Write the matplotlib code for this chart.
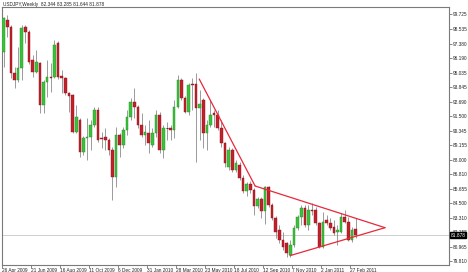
import matplotlib
matplotlib.use("Agg")
import matplotlib.pyplot as plt
from matplotlib.patches import Rectangle

# ---- data (weekly USDJPY candles, index 0 = week of 26 Apr 2009) ----
opens = [96.69, 99.28, 98.71, 95.00, 94.43, 95.40, 98.71, 98.31, 96.05, 95.08,
         95.80, 92.41, 94.27, 94.67, 94.67, 97.42, 94.75, 94.59, 93.38, 93.22,
         90.23, 91.20, 88.61, 89.74, 89.82, 90.79, 92.00, 89.74, 89.82, 89.58,
         88.77, 86.59, 89.98, 89.18, 90.39, 91.44, 92.65, 92.25, 90.79, 89.98,
         90.15, 89.18, 90.15, 91.60, 88.77, 90.55, 90.55, 90.39, 92.25, 94.43,
         92.98, 91.84, 94.11, 94.11, 92.17, 92.81, 90.15, 90.79, 91.76, 91.60,
         90.55, 89.34, 87.40, 88.77, 87.15, 87.56, 86.51, 85.46, 86.02, 85.54,
         84.24, 84.81, 83.84, 85.78, 84.33, 83.27, 82.30, 81.50, 81.25, 80.28,
         81.09, 82.47, 83.36, 84.08, 82.71, 83.92, 83.92, 82.87, 80.93, 83.11,
         82.87, 82.55, 82.14, 82.14, 83.36, 82.95, 81.50, 82.344]
highs = [99.52, 99.68, 98.88, 95.48, 97.10, 98.88, 98.88, 98.47, 96.45, 96.86,
         95.89, 94.43, 96.05, 95.80, 97.66, 97.58, 95.24, 94.67, 93.46, 93.30,
         92.41, 91.36, 89.90, 91.36, 91.20, 92.25, 92.25, 90.23, 90.55, 89.74,
         89.01, 90.63, 90.15, 90.63, 92.00, 92.98, 93.78, 92.41, 91.76, 90.79,
         91.20, 90.55, 92.00, 91.84, 90.79, 91.04, 90.79, 92.81, 94.83, 94.59,
         93.14, 94.19, 94.59, 95.00, 93.62, 92.98, 91.20, 92.81, 92.00, 92.00,
         91.20, 89.40, 89.01, 88.93, 87.96, 87.80, 86.75, 86.18, 86.27, 85.70,
         84.97, 84.97, 85.86, 85.86, 84.49, 83.44, 82.71, 82.14, 81.33, 81.50,
         82.71, 83.52, 84.33, 84.33, 84.33, 84.49, 84.16, 82.95, 83.76, 83.52,
         83.27, 83.11, 82.71, 83.68, 83.92, 83.36, 82.55, 83.285]
lows = [95.48, 97.91, 94.59, 93.78, 94.30, 94.43, 97.42, 95.72, 94.67, 95.00,
        91.76, 91.76, 93.06, 93.46, 94.59, 94.51, 93.38, 93.22, 91.84, 90.15,
        90.15, 88.21, 88.37, 87.96, 88.77, 90.63, 89.42, 88.93, 88.77, 88.37,
        84.73, 85.78, 88.21, 88.93, 89.98, 91.20, 91.36, 90.55, 89.82, 89.18,
        88.53, 89.01, 89.82, 88.53, 88.12, 89.58, 89.58, 89.74, 92.17, 92.81,
        91.76, 91.60, 92.00, 87.80, 89.58, 88.93, 88.77, 90.63, 90.63, 90.39,
        89.01, 87.40, 87.15, 86.99, 86.99, 86.35, 85.30, 85.05, 85.30, 83.52,
        84.08, 83.27, 82.79, 84.16, 83.11, 81.66, 81.25, 80.69, 80.12, 80.12,
        80.93, 82.30, 82.71, 82.55, 82.30, 83.52, 82.71, 80.85, 80.85, 82.71,
        82.30, 81.90, 81.09, 82.06, 82.87, 81.42, 81.33, 81.644]
closes = [99.44, 98.71, 95.00, 94.43, 95.40, 98.63, 98.31, 95.89, 95.08, 95.89,
          92.41, 94.27, 94.67, 94.60, 97.26, 94.67, 94.59, 93.38, 93.14, 90.23,
          91.44, 88.61, 89.74, 89.82, 90.79, 92.00, 89.58, 89.66, 89.58, 88.77,
          86.59, 89.98, 89.18, 90.39, 91.44, 92.65, 92.25, 90.79, 89.98, 90.23,
          89.34, 90.15, 91.60, 88.77, 90.55, 90.50, 90.39, 92.25, 94.43, 92.98,
          91.84, 94.03, 94.03, 92.17, 92.49, 90.15, 90.79, 91.60, 91.60, 90.55,
          89.34, 87.72, 88.77, 87.15, 87.72, 86.51, 85.46, 86.02, 85.54, 84.24,
          84.81, 83.84, 85.78, 84.33, 83.27, 82.14, 81.50, 80.93, 80.44, 81.09,
          82.47, 83.36, 84.08, 82.71, 83.92, 83.84, 82.87, 80.93, 82.95, 82.87,
          82.47, 82.06, 82.30, 83.36, 82.95, 81.50, 82.30, 81.878]

x_labels = ["26 Apr 2009", "21 Jun 2009", "16 Aug 2009", "11 Oct 2009", "6 Dec 2009",
            "31 Jan 2010", "28 Mar 2010", "23 May 2010", "18 Jul 2010", "12 Sep 2010",
            "7 Nov 2010", "2 Jan 2011", "27 Feb 2011"]
x_label_weeks = [0, 8, 16, 24, 32, 40, 48, 56, 64, 72, 80, 88, 96]

y_tick_labels = ["99.725", "98.535", "97.380", "96.190", "95.035", "93.845", "92.690",
                 "91.500", "90.345", "89.155", "88.000", "86.810", "85.655", "84.500",
                 "83.310", "82.155", "80.965", "79.810"]

# trend lines (week index, price)
line_down_x = [53.9, 69.3]
line_down_y = [94.51, 85.86]
line_upper_x = [69.3, 105.1]
line_upper_y = [85.86, 82.49]
line_lower_x = [78.9, 105.1]
line_lower_y = [80.23, 82.49]

title_text = "USDJPY,Weekly  82.344 83.285 81.644 81.878"
last_price = 81.878

# ---- drawing ----
FONT = ['Liberation Sans', 'DejaVu Sans']
FS = 3.4
W, H = 468, 272
fig = plt.figure(figsize=(W / 100, H / 100), dpi=100)
fig.patch.set_facecolor('white')
ax = fig.add_axes([2 / W, 7 / H, 447 / W, 258 / H])
ax.set_facecolor('white')
ax.set_xlim(-0.41, 122.73)
ax.set_ylim(79.474, 100.331)

green_f, green_e = '#3ac23a', '#228a22'
red_f, red_e = '#c2202a', '#8a1218'
wick_c = '#8a8a8a'
bw = 0.72

ax.axhline(last_price, color='#c8c8c8', lw=0.6, zorder=1)

for i, (o, h, l, c) in enumerate(zip(opens, highs, lows, closes)):
    ax.vlines(i, l, h, color=wick_c, lw=0.6, zorder=2)
    bottom = min(o, c)
    height = abs(c - o)
    if height < 0.06:
        ax.hlines((o + c) / 2, i - bw / 2, i + bw / 2, color='#333333', lw=0.7, zorder=3)
    else:
        if c >= o:
            fc, ec = green_f, green_e
        else:
            fc, ec = red_f, red_e
        ax.add_patch(Rectangle((i - bw / 2, bottom), bw, height, facecolor=fc,
                               edgecolor=ec, lw=0.3, zorder=3))

tl = dict(color='#e8283a', lw=0.9, zorder=4, solid_capstyle='round')
ax.plot(line_down_x, line_down_y, **tl)
ax.plot(line_upper_x, line_upper_y, **tl)
ax.plot(line_lower_x, line_lower_y, **tl)

for s in ax.spines.values():
    s.set_color('#7a7a7a')
    s.set_linewidth(0.8)

ax.yaxis.tick_right()
ax.set_yticks([float(v) for v in y_tick_labels])
ax.set_yticklabels(y_tick_labels, fontsize=FS, family=FONT, color='#222222')
ax.tick_params(axis='y', direction='out', length=1.8, width=0.5, pad=0.8, colors='#555555',
               labelcolor='#222222')

ax.set_xticks([w - 0.45 for w in x_label_weeks])
ax.set_xticklabels(x_labels, fontsize=FS, family=FONT, ha='left', color='#222222')
ax.tick_params(axis='x', direction='out', length=1.8, width=0.5, pad=0.3, colors='#555555',
               labelcolor='#222222')

# current price tag
ax.annotate(f"{last_price:.3f}", xy=(1.0, last_price), xycoords=('axes fraction', 'data'),
            xytext=(1.3, 0), textcoords='offset points', ha='left', va='center',
            fontsize=FS, family=FONT, color='white',
            bbox=dict(boxstyle='square,pad=0.12', fc='black', ec='black'),
            annotation_clip=False, zorder=10)

fig.text(3 / W, 1 - 4.5 / H, title_text, fontsize=FS, family=FONT, color='#222222',
         ha='left', va='center')

fig.savefig('out.png', dpi=100, facecolor='white')
